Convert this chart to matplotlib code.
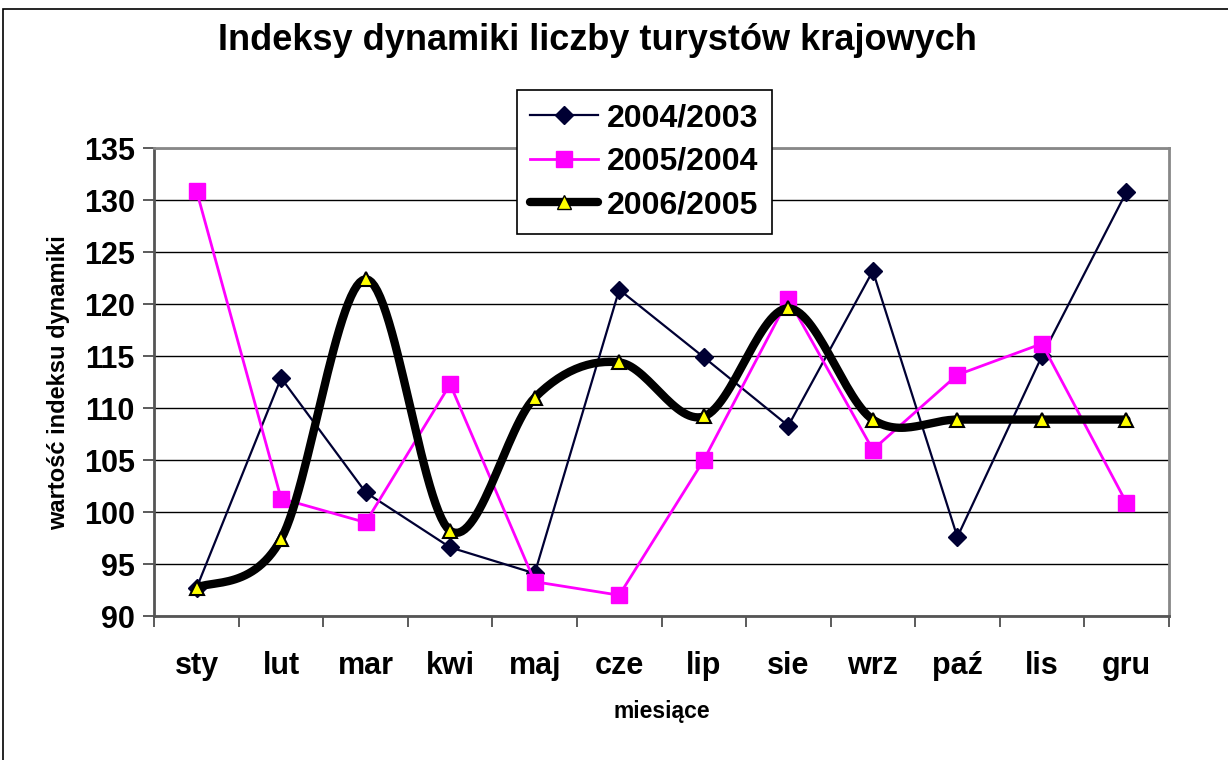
import numpy as np
import matplotlib.pyplot as plt
from matplotlib.lines import Line2D
from matplotlib.patches import Rectangle

plt.rcParams['font.family'] = ['Liberation Sans', 'DejaVu Sans']
plt.rcParams['font.weight'] = 'bold'

# data
months = ['sty', 'lut', 'mar', 'kwi', 'maj', 'cze', 'lip', 'sie', 'wrz', 'paź', 'lis', 'gru']
idx_2004 = [92.7, 112.9, 101.9, 96.6, 94.1, 121.4, 114.9, 108.3, 123.2, 97.6, 115.0, 130.8]
idx_2005 = [130.9, 101.3, 99.0, 112.3, 93.3, 92.0, 105.0, 120.5, 106.0, 113.2, 116.2, 100.9]
idx_2006 = [92.7, 97.4, 122.4, 98.2, 111.0, 114.4, 109.2, 119.6, 108.9, 108.9, 108.9, 108.9]
series_names = ['2004/2003', '2005/2004', '2006/2005']


def smooth(x, y, n=30):
    # Excel-style smoothed line (Catmull-Rom as cubic Bezier)
    x = np.asarray(x, float)
    y = np.asarray(y, float)
    px = np.concatenate([[x[0]], x, [x[-1]]])
    py = np.concatenate([[y[0]], y, [y[-1]]])
    xs, ys = [], []
    t = np.linspace(0, 1, n)
    for i in range(1, len(px) - 2):
        p0 = np.array([px[i], py[i]])
        p3 = np.array([px[i + 1], py[i + 1]])
        c1 = p0 + (p3 - np.array([px[i - 1], py[i - 1]])) / 6
        c2 = p3 - (np.array([px[i + 2], py[i + 2]]) - p0) / 6
        b = ((1 - t) ** 3)[:, None] * p0 + (3 * (1 - t) ** 2 * t)[:, None] * c1 \
            + (3 * (1 - t) * t ** 2)[:, None] * c2 + (t ** 3)[:, None] * p3
        xs.extend(b[:, 0])
        ys.extend(b[:, 1])
    return np.array(xs), np.array(ys)


fig = plt.figure(figsize=(12.28, 7.6), dpi=100)
ax = fig.add_axes([154.3 / 1228, 1 - 616 / 760, (1168.7 - 154.3) / 1228, (616 - 148.3) / 760])

x = np.arange(len(months))

ax.plot(x, idx_2004, color='#000033', lw=1.6, marker='D', ms=9,
        mfc='#000033', mec='#000033', zorder=3)
ax.plot(x, idx_2005, color='#ff00ff', lw=2, marker='s', ms=11,
        mfc='#ff00ff', mec='#ff00ff', zorder=4)
sx, sy = smooth(x, idx_2006)
ax.plot(sx, sy, color='black', lw=6, solid_capstyle='round', zorder=5)
ax.plot(x, idx_2006, ls='none', marker='^', ms=10, mfc='#ffff00', mec='black',
        mew=1.5, zorder=6)

ax.set_xlim(-0.5, 11.5)
ax.set_ylim(90, 135)
ax.set_yticks(np.arange(90, 136, 5))
ax.yaxis.grid(True, color='black', lw=1)
ax.set_axisbelow(True)
ax.tick_params(axis='y', direction='out', length=8, width=1.2, pad=6, labelsize=22, color='#404040')

ax.set_xticks(np.arange(-0.5, 12, 1))
ax.set_xticklabels([])
ax.set_xticks(x, minor=True)
ax.set_xticklabels(months, minor=True, fontsize=22)
ax.tick_params(axis='x', which='major', direction='out', length=8, width=1.2, color='#404040')
ax.tick_params(axis='x', which='minor', length=0, pad=25)

for s in ['left', 'bottom']:
    ax.spines[s].set_color('#555555')
    ax.spines[s].set_linewidth(2)
for s in ['top', 'right']:
    ax.spines[s].set_color('#888888')
    ax.spines[s].set_linewidth(2)

ax.set_ylabel('wartość indeksu dynamiki', fontsize=17, fontweight='bold', labelpad=10)
ax.set_xlabel('miesiące', fontsize=16.5, fontweight='bold', labelpad=14)
fig.suptitle('Indeksy dynamiki liczby turystów krajowych', fontsize=26, fontweight='bold',
             x=597 / 1228, y=1 - 23 / 760, va='top')

handles = [
    Line2D([], [], color='#000033', lw=1.6, marker='D', ms=9, mfc='#000033'),
    Line2D([], [], color='#ff00ff', lw=2, marker='s', ms=11, mfc='#ff00ff'),
    Line2D([], [], color='black', lw=6, marker='^', ms=10, mfc='#ffff00', mec='black',
           solid_capstyle='round'),
]
leg = fig.legend(handles, series_names, loc='upper left',
                 bbox_to_anchor=(517 / 1228, 1 - 90 / 760), borderaxespad=0, fontsize=23,
                 frameon=True, fancybox=False, edgecolor='black', framealpha=1,
                 handlelength=2.1, borderpad=0.42, labelspacing=0.42, handletextpad=0.3)
leg.get_frame().set_linewidth(1.2)

# outer chart border
fig.add_artist(Rectangle((3 / 1228, -0.2), 1.2, 1.2 - 9 / 760, transform=fig.transFigure,
                         fill=False, edgecolor='black', lw=1.2))

fig.savefig('out.png', dpi=100)
